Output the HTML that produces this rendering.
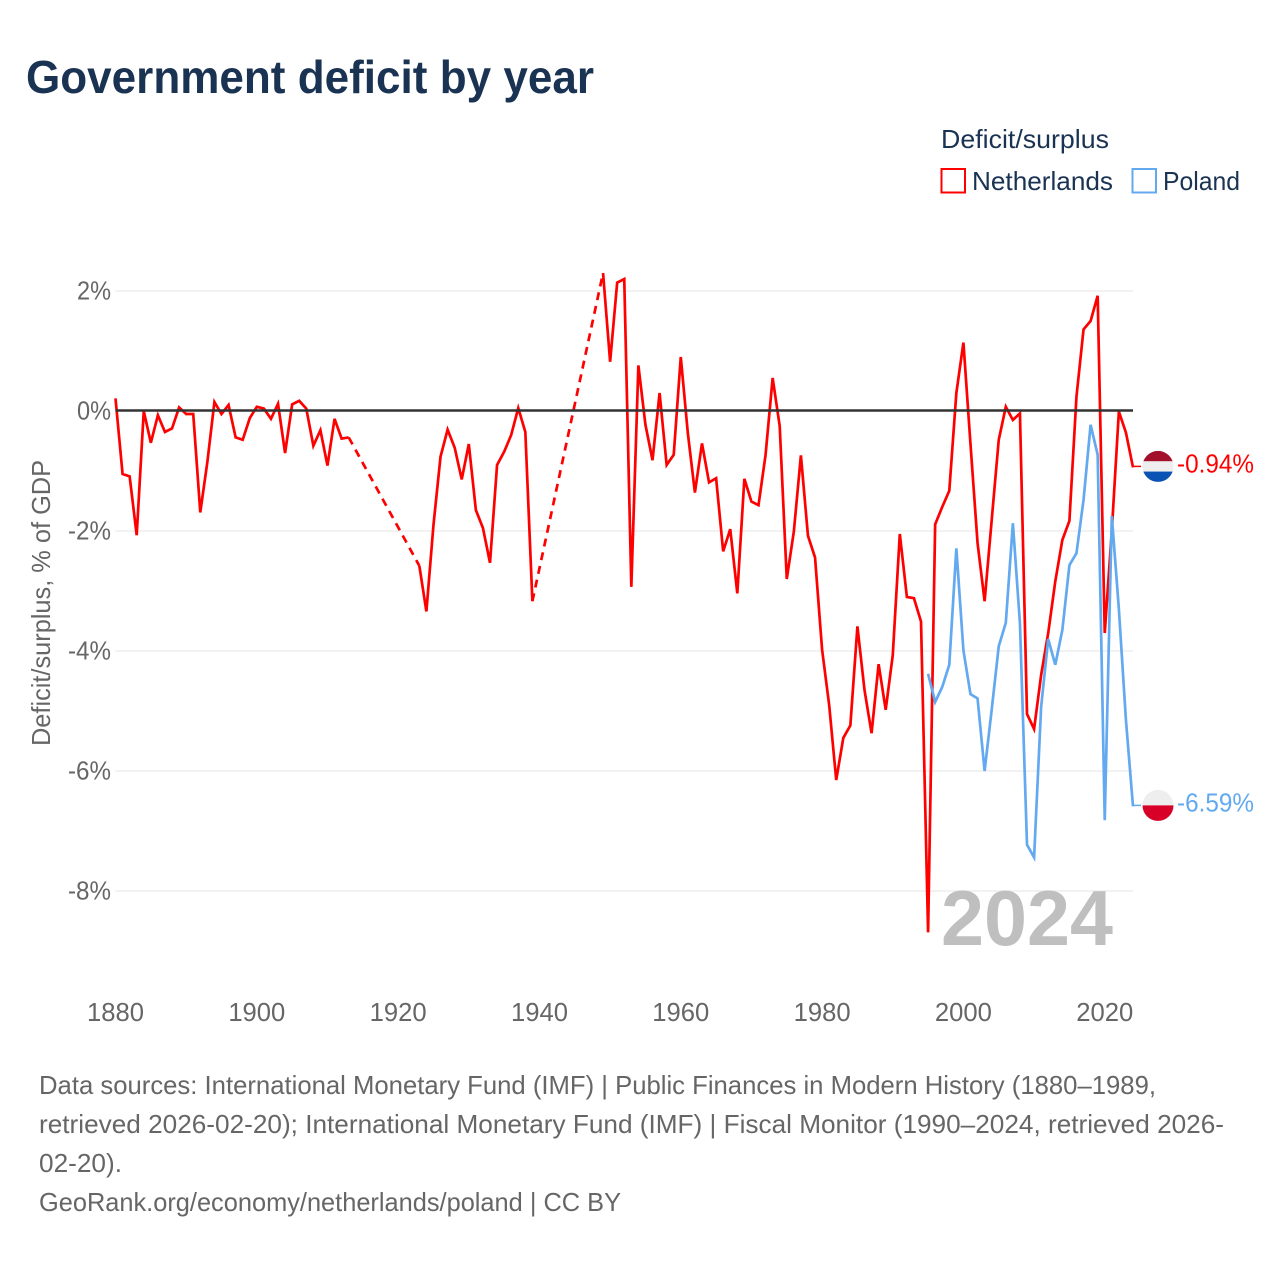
<!DOCTYPE html>
<html lang="en">
<head>
<meta charset="utf-8">
<title>Government deficit by year</title>
<style>
html,body{margin:0;padding:0;background:#fff;}
svg{display:block;font-family:"Liberation Sans",sans-serif;}
</style>
</head>
<body>
<svg id="chart" xmlns="http://www.w3.org/2000/svg" width="1280" height="1280" viewBox="0 0 1280 1280">
  <rect x="0" y="0" width="1280" height="1280" fill="#ffffff"/>
  <text x="26" y="93" font-size="46" font-weight="700" fill="#1a3353" textLength="568" lengthAdjust="spacingAndGlyphs">Government deficit by year</text>

  <g>
    <text x="941" y="148" font-size="26" fill="#1a3353" textLength="168" lengthAdjust="spacingAndGlyphs">Deficit/surplus</text>
    <rect x="941.5" y="169" width="23.5" height="23.5" fill="#fff" stroke="#ff0000" stroke-width="2"/>
    <text x="972" y="190" font-size="26" fill="#1a3353" textLength="141" lengthAdjust="spacingAndGlyphs">Netherlands</text>
    <rect x="1132.5" y="169" width="23.5" height="23.5" fill="#fff" stroke="#63a9f0" stroke-width="2"/>
    <text x="1163" y="190" font-size="26" fill="#1a3353" textLength="77" lengthAdjust="spacingAndGlyphs">Poland</text>
  </g>

  <text transform="translate(50,603) rotate(-90)" text-anchor="middle" font-size="26" fill="#666666" textLength="286" lengthAdjust="spacingAndGlyphs">Deficit/surplus, % of GDP</text>

  <g id="grid"></g>
  <g id="y-ticks"></g>
  <g id="x-ticks"></g>

  <text x="941" y="945" font-size="78" font-weight="700" fill="#bfbfbf" textLength="172" lengthAdjust="spacingAndGlyphs">2024</text>

  <g id="series"></g>
  <line id="zero-line" stroke="#333333" stroke-width="2.5"/>
  <g id="series-top"></g>

  <g font-size="26" fill="#666666">
    <text x="39" y="1094" textLength="1117" lengthAdjust="spacingAndGlyphs">Data sources: International Monetary Fund (IMF) | Public Finances in Modern History (1880–1989,</text>
    <text x="39" y="1133" textLength="1185" lengthAdjust="spacingAndGlyphs">retrieved 2026-02-20); International Monetary Fund (IMF) | Fiscal Monitor (1990–2024, retrieved 2026-</text>
    <text x="39" y="1172" textLength="83" lengthAdjust="spacingAndGlyphs">02-20).</text>
    <text x="39" y="1211" textLength="582" lengthAdjust="spacingAndGlyphs">GeoRank.org/economy/netherlands/poland | CC BY</text>
  </g>
</svg>
<script>
const netherlandsStartYear = 1880;
const netherlandsValues = [
  0.21,-1.05,-1.09,-2.07,0.0,-0.53,-0.07,-0.35,-0.29,0.06,
  -0.05,-0.05,-1.69,-0.85,0.15,-0.05,0.1,-0.44,-0.48,-0.12,
  0.07,0.04,-0.13,0.12,-0.7,0.11,0.17,0.04,-0.58,-0.32,
  -0.91,-0.13,-0.46,-0.44,null,null,null,null,null,null,
  null,null,null,-2.58,-3.34,-1.9,-0.76,-0.31,-0.61,-1.14,
  -0.55,-1.65,-1.95,-2.53,-0.9,-0.68,-0.4,0.05,-0.35,-3.17,
  null,null,null,null,null,null,null,null,null,2.3,
  0.82,2.14,2.2,-2.93,0.76,-0.23,-0.82,0.3,-0.9,-0.73,
  0.9,-0.37,-1.36,-0.54,-1.19,-1.12,-2.34,-1.97,-3.04,-1.13,
  -1.51,-1.57,-0.73,0.55,-0.25,-2.8,-2.01,-0.74,-2.08,-2.44,
  -3.98,-4.9,-6.15,-5.45,-5.24,-3.59,-4.65,-5.37,-4.22,-4.98,
  -4.07,-2.05,-3.1,-3.12,-3.51,-8.69,-1.89,-1.6,-1.33,0.3,
  1.14,-0.55,-2.2,-3.17,-1.82,-0.48,0.07,-0.15,-0.04,-5.05,
  -5.3,-4.4,-3.7,-2.84,-2.15,-1.83,0.24,1.36,1.5,1.92,
  -3.7,-2.0,-0.01,-0.36,-0.94
];
const polandStartYear = 1995;
const polandValues = [
  -4.38,-4.85,-4.6,-4.23,-2.29,-3.99,-4.72,-4.79,-6.0,-4.98,
  -3.92,-3.53,-1.87,-3.54,-7.23,-7.44,-4.93,-3.8,-4.23,-3.65,
  -2.57,-2.37,-1.48,-0.23,-0.73,-6.82,-1.75,-3.3,-5.15,-6.59
];
const yTickValues = [2, 0, -2, -4, -6, -8];
const yTickLabels = ["2%", "0%", "-2%", "-4%", "-6%", "-8%"];
const xTickValues = [1880, 1900, 1920, 1940, 1960, 1980, 2000, 2020];
const xTickLabels = ["1880", "1900", "1920", "1940", "1960", "1980", "2000", "2020"];
const endLabelNetherlands = "-0.94%";
const endLabelPoland = "-6.59%";

const NS = "http://www.w3.org/2000/svg";
const plotLeft = 115.5, plotRight = 1133;
function xScale(year) { return plotLeft + (year - 1880) * (plotRight - plotLeft) / 144; }
function yScale(value) { return 411 - value * 60; }
function svgEl(tag, parent) {
  const el = document.createElementNS(NS, tag);
  document.getElementById(parent).appendChild(el);
  return el;
}

yTickValues.forEach(function (v, i) {
  if (v !== 0) {
    const g = svgEl("line", "grid");
    
    
    g.setAttribute("x1", plotLeft);
    g.setAttribute("x2", plotRight);
    g.setAttribute("y1", yScale(v));
    g.setAttribute("y2", yScale(v));
    g.setAttribute("stroke", "#eeeeee");
    g.setAttribute("stroke-width", "1.5");
  }
  const t = svgEl("text", "y-ticks");
  
  
  t.setAttribute("x", 111);
  t.setAttribute("y", yScale(v) + 8.5);
  t.setAttribute("text-anchor", "end");
  t.setAttribute("font-size", "26");
  t.setAttribute("fill", "#666666");
  t.setAttribute("textLength", yTickLabels[i].charAt(0) === "-" ? "43" : "34");
  t.setAttribute("lengthAdjust", "spacingAndGlyphs");
  t.textContent = yTickLabels[i];
});

xTickValues.forEach(function (v, i) {
  const t = svgEl("text", "x-ticks");
  
  
  t.setAttribute("x", xScale(v));
  t.setAttribute("y", 1021);
  t.setAttribute("text-anchor", "middle");
  t.setAttribute("font-size", "26");
  t.setAttribute("fill", "#666666");
  t.setAttribute("textLength", "57");
  t.setAttribute("lengthAdjust", "spacingAndGlyphs");
  t.textContent = xTickLabels[i];
});

const zero = document.getElementById("zero-line");
zero.setAttribute("x1", plotLeft);
zero.setAttribute("x2", plotRight);
zero.setAttribute("y1", yScale(0) - 0.5);
zero.setAttribute("y2", yScale(0) - 0.5);

function drawSeries(values, startYear, color, name) {
  let solid = "";
  let dashed = "";
  let prev = null;
  values.forEach(function (v, i) {
    if (v === null) { return; }
    const px = xScale(startYear + i).toFixed(2);
    const py = yScale(v).toFixed(2);
    if (prev === null) {
      solid += "M" + px + " " + py;
    } else if (prev.i === i - 1) {
      solid += "L" + px + " " + py;
    } else {
      dashed += "M" + prev.x + " " + prev.y + "L" + px + " " + py;
      solid += "M" + px + " " + py;
    }
    prev = { i: i, x: px, y: py };
  });
  const line = svgEl("path", "series");
  
  
  line.setAttribute("d", solid);
  line.setAttribute("fill", "none");
  line.setAttribute("stroke", color);
  line.setAttribute("stroke-width", "2.7");
  line.setAttribute("stroke-linejoin", "miter");
  if (dashed) {
    const gap = svgEl("path", "series");
    
    
    gap.setAttribute("d", dashed);
    gap.setAttribute("fill", "none");
    gap.setAttribute("stroke", color);
    gap.setAttribute("stroke-width", "2.7");
    gap.setAttribute("stroke-dasharray", "8 6");
  }
}

drawSeries(netherlandsValues, netherlandsStartYear, "#ff0000", "netherlands");
drawSeries(polandValues, polandStartYear, "#63a9f0", "poland");

function drawEnd(values, color, name, label, stripes) {
  const last = values[values.length - 1];
  const cy = yScale(last) - 1;
  const lead = svgEl("line", "series-top");
  
  
  lead.setAttribute("x1", plotRight);
  lead.setAttribute("x2", 1141);
  lead.setAttribute("y1", cy);
  lead.setAttribute("y2", cy);
  lead.setAttribute("stroke", color);
  lead.setAttribute("stroke-width", "1.5");

  const cx = 1158, r = 15.5;
  const h = 2 * r / stripes.length;
  const clipId = "clip-" + name;
  const clip = svgEl("clipPath", "series-top");
  clip.setAttribute("id", clipId);
  const circ = document.createElementNS(NS, "circle");
  circ.setAttribute("cx", cx);
  circ.setAttribute("cy", cy);
  circ.setAttribute("r", r);
  clip.appendChild(circ);
  const flag = svgEl("g", "series-top");
  flag.setAttribute("id", "flag-" + name);
  
  
  flag.setAttribute("clip-path", "url(#" + clipId + ")");
  stripes.forEach(function (c, i) {
    const s = svgEl("rect", "flag-" + name);
    
    
    s.setAttribute("x", cx - r);
    s.setAttribute("y", cy - r + i * h);
    s.setAttribute("width", 2 * r);
    s.setAttribute("height", h + 0.2);
    s.setAttribute("fill", c);
  });

  const t = svgEl("text", "series-top");
  
  
  t.setAttribute("x", 1177);
  t.setAttribute("y", cy + 6);
  t.setAttribute("font-size", "26");
  t.setAttribute("fill", color);
  t.setAttribute("textLength", "77");
  t.setAttribute("lengthAdjust", "spacingAndGlyphs");
  t.textContent = label;
}
drawEnd(netherlandsValues, "#ff0000", "netherlands", endLabelNetherlands, ["#a2102c", "#eeeeee", "#0a52b4"]);
drawEnd(polandValues, "#63a9f0", "poland", endLabelPoland, ["#eeeeee", "#d80027"]);
</script>
</body>
</html>
